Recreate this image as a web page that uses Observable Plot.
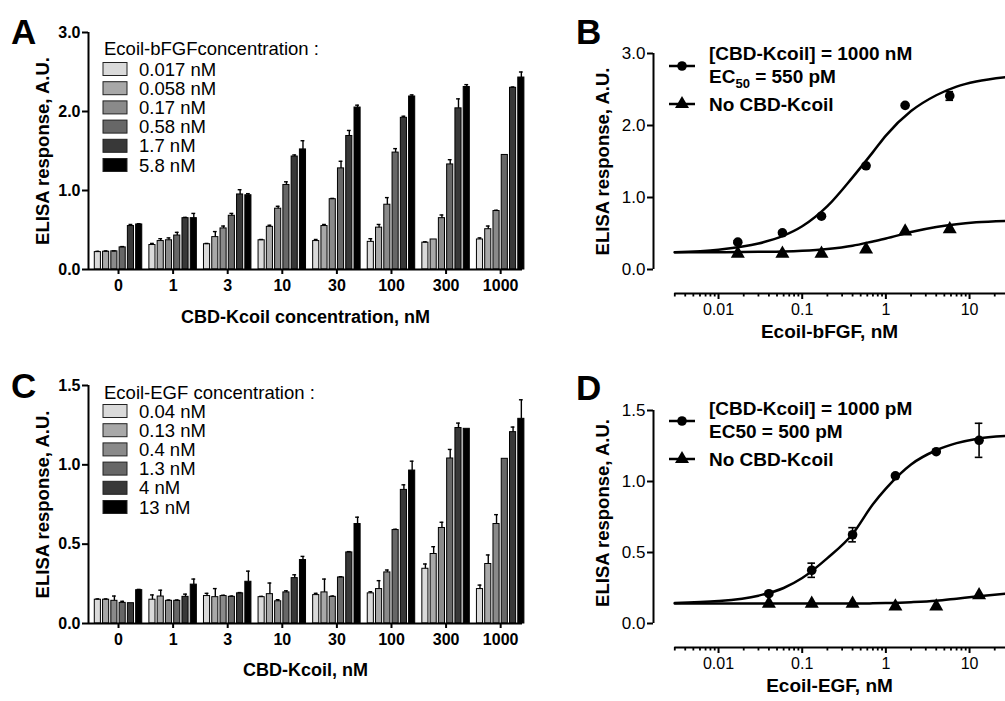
<!DOCTYPE html>
<html><head><meta charset="utf-8">
<script src="https://cdn.jsdelivr.net/npm/d3@7"></script>
<script src="https://cdn.jsdelivr.net/npm/@observablehq/plot@0.6"></script>
<style>
html,body{margin:0;padding:0;background:#fff;overflow:hidden}
#fig{position:relative;width:1005px;height:701px;background:#fff;font-family:"Liberation Sans",Arial,sans-serif;color:#000}
#fig svg{position:absolute}
</style></head>
<body><div id="fig"></div>
<script>
// ---------------- data ----------------
const kcoilLabels = ["0", "1", "3", "10", "30", "100", "300", "1000"];
const bfgfLegend = ["0.017 nM", "0.058 nM", "0.17 nM", "0.58 nM", "1.7 nM", "5.8 nM"];
const egfLegend = ["0.04 nM", "0.13 nM", "0.4 nM", "1.3 nM", "4 nM", "13 nM"];
const grays = ["#dadada", "#a8a8a8", "#8a8a8a", "#676767", "#383838", "#000000"];

// Panel A: rows = CBD-Kcoil concentration, columns = Ecoil-bFGF concentration
const bfgfBars = [
  [0.22, 0.225, 0.23, 0.28, 0.55, 0.57],
  [0.31, 0.36, 0.37, 0.43, 0.65, 0.65],
  [0.32, 0.41, 0.52, 0.68, 0.95, 0.94],
  [0.37, 0.54, 0.77, 1.07, 1.43, 1.52],
  [0.36, 0.55, 0.89, 1.28, 1.69, 2.05],
  [0.35, 0.53, 0.82, 1.48, 1.92, 2.19],
  [0.34, 0.38, 0.65, 1.33, 2.04, 2.31],
  [0.38, 0.51, 0.74, 1.45, 2.30, 2.43]
];
const bfgfBarErr = [
  [0.01, 0.01, 0.005, 0.01, 0.02, 0.01],
  [0.02, 0.03, 0.03, 0.04, 0.01, 0.06],
  [0.01, 0.07, 0.03, 0.03, 0.06, 0.02],
  [0.01, 0.02, 0.03, 0.04, 0.02, 0.11],
  [0.02, 0.02, 0.01, 0.09, 0.07, 0.03],
  [0.04, 0.04, 0.09, 0.05, 0.02, 0.02],
  [0.01, 0.0, 0.04, 0.06, 0.12, 0.03],
  [0.02, 0.04, 0.01, 0.0, 0.01, 0.07]
];
// Panel C
const egfBars = [
  [0.15, 0.15, 0.143, 0.13, 0.128, 0.21],
  [0.15, 0.17, 0.143, 0.143, 0.168, 0.245],
  [0.173, 0.166, 0.173, 0.168, 0.19, 0.263],
  [0.166, 0.185, 0.14, 0.196, 0.286, 0.40],
  [0.179, 0.196, 0.168, 0.29, 0.448, 0.627],
  [0.19, 0.217, 0.322, 0.589, 0.842, 0.964],
  [0.345, 0.438, 0.602, 1.04, 1.232, 1.227],
  [0.217, 0.375, 0.627, 1.038, 1.206, 1.29]
];
const egfBarErr = [
  [0.005, 0.005, 0.03, 0.01, 0.0, 0.005],
  [0.03, 0.04, 0.005, 0.005, 0.017, 0.035],
  [0.017, 0.054, 0.005, 0.005, 0.005, 0.067],
  [0.005, 0.07, 0.01, 0.01, 0.021, 0.023],
  [0.011, 0.084, 0.005, 0.005, 0.005, 0.043],
  [0.01, 0.053, 0.015, 0.005, 0.032, 0.059],
  [0.03, 0.046, 0.036, 0.057, 0.031, 0.0],
  [0.025, 0.057, 0.059, 0.0, 0.032, 0.12]
];

// Panel B
const bfgfDose = [0.017, 0.058, 0.17, 0.58, 1.7, 5.8];
const bfgfWith = [0.38, 0.51, 0.74, 1.44, 2.28, 2.41];
const bfgfWithErr = [0.02, 0.02, 0.02, 0.03, 0.02, 0.06];
const bfgfWithout = [0.22, 0.22, 0.22, 0.28, 0.53, 0.56];
const fitDose = [0.003, 0.01, 0.03, 0.06, 0.1, 0.2, 0.4, 0.7, 1, 2, 4, 7, 12, 27];
const bfgfFitWith = [0.24, 0.275, 0.36, 0.47, 0.60, 0.88, 1.28, 1.63, 1.86, 2.20, 2.42, 2.54, 2.61, 2.67];
const bfgfFitWithout = [0.24, 0.24, 0.245, 0.25, 0.26, 0.285, 0.33, 0.39, 0.43, 0.52, 0.59, 0.63, 0.655, 0.675];

// Panel D
const egfDose = [0.04, 0.13, 0.4, 1.3, 4, 13];
const egfWith = [0.21, 0.375, 0.625, 1.04, 1.21, 1.29];
const egfWithErr = [0.01, 0.05, 0.05, 0.01, 0.01, 0.12];
const egfWithout = [0.14, 0.14, 0.14, 0.12, 0.12, 0.20];
const egfFitWith = [0.145, 0.158, 0.196, 0.25, 0.32, 0.46, 0.63, 0.84, 0.95, 1.12, 1.22, 1.27, 1.30, 1.32];
const egfFitWithout = [0.14, 0.14, 0.14, 0.14, 0.14, 0.14, 0.14, 0.142, 0.144, 0.15, 0.16, 0.175, 0.19, 0.21];

const majorDecades = [0.01, 0.1, 1, 10];
const minorTicks = [0.003,0.004,0.005,0.006,0.007,0.008,0.009,
  0.02,0.03,0.04,0.05,0.06,0.07,0.08,0.09,
  0.2,0.3,0.4,0.5,0.6,0.7,0.8,0.9,
  2,3,4,5,6,7,8,9,20];

// ---------------- drawing ----------------
const FONT = '"Liberation Sans", Arial, sans-serif';
const fig = document.getElementById("fig");
function place(node, left, top) {
  node.style.left = left + "px";
  node.style.top = top + "px";
  fig.appendChild(node);
}

const X_DOMAIN = [-0.55, 7.4];
const BAR_STEP = 0.1515, BAR_W = 0.112, CAP_W = 0.035;

function barPanel(values, errs, yMax, yTicks, yTitle, xTitle, opts) {
  const rows = values.flatMap((grp, g) => grp.map((v, s) => ({g, s, v, e: errs[g][s]})));
  const n = values[0].length;
  const cx = d => d.g + (d.s - (n - 1) / 2) * BAR_STEP;
  const withErr = rows.filter(d => d.e > 0);
  return Plot.plot({
    width: 530, height: opts.height,
    marginLeft: 88, marginRight: 8, marginTop: opts.marginTop, marginBottom: opts.marginBottom,
    x: {domain: X_DOMAIN},
    y: {domain: [0, yMax]},
    color: {type: "ordinal", domain: d3.range(n), range: grays},
    style: {fontFamily: FONT, fontSize: "16px", fontWeight: "bold", color: "#000", background: "transparent", overflow: "visible"},
    marks: [
      Plot.rect(rows, {x1: d => cx(d) - BAR_W / 2, x2: d => cx(d) + BAR_W / 2, y1: 0, y2: "v", fill: "s", stroke: "#000", strokeWidth: 1}),
      Plot.ruleX(withErr, {x: cx, y1: "v", y2: d => d.v + d.e, stroke: "#000", strokeWidth: 1.4}),
      Plot.ruleY(withErr, {y: d => d.v + d.e, x1: d => cx(d) - CAP_W, x2: d => cx(d) + CAP_W, stroke: "#000", strokeWidth: 1.4}),
      Plot.ruleY([0], {stroke: "#000", strokeWidth: 2}),
      Plot.ruleX([X_DOMAIN[0]], {y1: 0, y2: yMax, stroke: "#000", strokeWidth: 2}),
      Plot.axisY({ticks: yTicks, tickFormat: d3.format(".1f"), tickSize: 6, tickPadding: 2, strokeWidth: 2, fontSize: 16, fontWeight: "bold", label: null}),
      Plot.axisX({ticks: d3.range(kcoilLabels.length), tickFormat: i => kcoilLabels[i], tickSize: 5, tickPadding: 5, strokeWidth: 2, fontSize: 16, fontWeight: "bold", label: null}),
      Plot.text([yTitle], {text: d => d, frameAnchor: "left", textAnchor: "middle", dx: -45, rotate: -90, fontSize: 18.5, fontWeight: "bold"}),
      Plot.text([xTitle], {text: d => d, frameAnchor: "bottom", textAnchor: "middle", dy: opts.xTitleDy, fontSize: 18, fontWeight: "bold"})
    ]
  });
}

const LOG_DOMAIN = [0.00167, 26.9];
function curvePanel(cfg) {
  const pts = (xs, ys, es) => xs.map((x, i) => ({x, y: ys[i], e: es ? es[i] : 0}));
  const withPts = pts(cfg.dose, cfg.withY, cfg.withErr);
  const withoutPts = pts(cfg.dose, cfg.withoutY);
  const fitWith = pts(fitDose, cfg.fitWith);
  const fitWithout = pts(fitDose, cfg.fitWithout);
  const errPts = withPts.filter(d => d.e > 0);
  return Plot.plot({
    width: 445, height: cfg.height,
    marginLeft: 93, marginRight: 0, marginTop: cfg.marginTop, marginBottom: cfg.marginBottom,
    x: {type: "log", domain: LOG_DOMAIN},
    y: {domain: [cfg.yMin, cfg.yMax]},
    style: {fontFamily: FONT, fontSize: "16px", fontWeight: "normal", color: "#000", background: "transparent", overflow: "visible"},
    marks: [
      Plot.line(fitWithout, {x: "x", y: "y", curve: "monotone-x", stroke: "#000", strokeWidth: 2.5}),
      Plot.line(fitWith, {x: "x", y: "y", curve: "monotone-x", stroke: "#000", strokeWidth: 2.5}),
      Plot.ruleX(errPts, {x: "x", y1: d => d.y - d.e, y2: d => d.y + d.e, stroke: "#000", strokeWidth: 1.6}),
      Plot.ruleY(errPts, {y: d => d.y + d.e, x1: d => d.x / 1.11, x2: d => d.x * 1.11, stroke: "#000", strokeWidth: 1.6}),
      Plot.ruleY(errPts, {y: d => d.y - d.e, x1: d => d.x / 1.11, x2: d => d.x * 1.11, stroke: "#000", strokeWidth: 1.6}),
      Plot.dot(withPts, {x: "x", y: "y", symbol: "circle", r: 4.8, fill: "#000"}),
      Plot.dot(withoutPts, {x: "x", y: "y", symbol: "triangle", r: 5.2, fill: "#000"}),
      // axes
      Plot.ruleX([LOG_DOMAIN[0]], {y1: 0, y2: cfg.yMax, stroke: "#000", strokeWidth: 2}),
      Plot.ruleY([cfg.yMin], {x1: fitDose[0], x2: LOG_DOMAIN[1], stroke: "#000", strokeWidth: 2.2}),
      Plot.axisY({ticks: cfg.yTicks, tickFormat: d3.format(".1f"), tickSize: 6, tickPadding: 2, strokeWidth: 2, fontSize: 17, label: null}),
      Plot.axisX({ticks: majorDecades, tickFormat: d => String(d), tickSize: 6, tickPadding: 4, strokeWidth: 2, fontSize: 16, label: null}),
      Plot.axisX({ticks: minorTicks, tickFormat: () => "", tickSize: 3.5, strokeWidth: 1.8, label: null}),
      Plot.text([cfg.yTitle], {text: d => d, frameAnchor: "left", textAnchor: "middle", dx: -50, dy: -cfg.yTitleShift, rotate: -90, fontSize: 18.5, fontWeight: "bold"}),
      Plot.text([cfg.xTitle], {text: d => d, frameAnchor: "bottom", textAnchor: "middle", dy: 44, fontSize: 19, fontWeight: "bold"})
    ]
  });
}

place(barPanel(bfgfBars, bfgfBarErr, 3, [0, 1, 2, 3], "ELISA response, A.U.", "CBD-Kcoil concentration, nM",
  {height: 345, marginTop: 32, marginBottom: 76, xTitleDy: 53}), 0, 0);
place(barPanel(egfBars, egfBarErr, 1.5, [0, 0.5, 1, 1.5], "ELISA response, A.U.", "CBD-Kcoil, nM",
  {height: 345, marginTop: 32, marginBottom: 75, xTitleDy: 52}), 0, 353);

place(curvePanel({dose: bfgfDose, withY: bfgfWith, withErr: bfgfWithErr, withoutY: bfgfWithout,
  fitWith: bfgfFitWith, fitWithout: bfgfFitWithout, yMin: -1 / 3, yMax: 3, yTicks: [0, 1, 2, 3],
  height: 350, marginTop: 53, marginBottom: 57, yTitle: "ELISA response, A.U.", xTitle: "Ecoil-bFGF, nM", yTitleShift: 12}), 560, 0);
place(curvePanel({dose: egfDose, withY: egfWith, withErr: egfWithErr, withoutY: egfWithout,
  fitWith: egfFitWith, fitWithout: egfFitWithout, yMin: -0.169, yMax: 1.5, yTicks: [0, 0.5, 1, 1.5],
  height: 351, marginTop: 60, marginBottom: 54, yTitle: "ELISA response, A.U.", xTitle: "Ecoil-EGF, nM", yTitleShift: 16}), 560, 350);

// ---------------- overlay: panel letters and legends ----------------
const ov = d3.select(fig).append("svg").attr("width", 1005).attr("height", 701)
  .style("left", "0px").style("top", "0px").style("pointer-events", "none")
  .style("font-family", FONT);

[["A", 11, 44], ["B", 576, 44], ["C", 11, 398], ["D", 576, 400]].forEach(([t, x, y]) =>
  ov.append("text").attr("x", x).attr("y", y).attr("font-size", 35).attr("font-weight", "bold").text(t));

function swatchLegend(title, labels, x, titleY, rowY) {
  const g = ov.append("g").attr("font-size", 18.5);
  g.append("text").attr("x", x + 1).attr("y", titleY + 6.5).text(title);
  labels.forEach((lab, i) => {
    const cy = rowY + i * 19.2;
    g.append("rect").attr("x", x).attr("y", cy - 6.5).attr("width", 24).attr("height", 13)
      .attr("fill", grays[i]).attr("stroke", "#222").attr("stroke-width", 1);
    g.append("text").attr("x", x + 36).attr("y", cy + 6.5).text(lab);
  });
}
swatchLegend("Ecoil-bFGFconcentration :", bfgfLegend, 103, 48, 69);
swatchLegend("Ecoil-EGF concentration :", egfLegend, 103, 392, 411);

function symbolLegend(line1, ecText, ecUnit, line3, top) {
  const g = ov.append("g").attr("font-size", 19).attr("font-weight", "bold");
  const yc = top + 13, yt = top + 51;
  g.append("line").attr("x1", 669).attr("x2", 695).attr("y1", yc).attr("y2", yc).attr("stroke", "#000").attr("stroke-width", 2.5);
  g.append("circle").attr("cx", 682).attr("cy", yc).attr("r", 4.8);
  g.append("text").attr("x", 709).attr("y", top + 7).text(line1);
  const t2 = g.append("text").attr("x", 709).attr("y", top + 30);
  if (ecText.sub) {
    t2.append("tspan").text("EC");
    t2.append("tspan").attr("font-size", 13).attr("dy", 5).text(ecText.sub);
    t2.append("tspan").attr("dy", -5).text(ecUnit);
  } else {
    t2.text(ecText.plain + ecUnit);
  }
  g.append("line").attr("x1", 669).attr("x2", 695).attr("y1", yt).attr("y2", yt).attr("stroke", "#000").attr("stroke-width", 2.5);
  g.append("path").attr("d", d3.symbol(d3.symbolTriangle, 85)()).attr("transform", `translate(682,${yt})`);
  g.append("text").attr("x", 709).attr("y", yt + 7).text(line3);
}
symbolLegend("[CBD-Kcoil] = 1000 nM", {sub: "50"}, " = 550 pM", "No CBD-Kcoil", 53);
symbolLegend("[CBD-Kcoil] = 1000 pM", {plain: "EC50"}, " = 500 pM", "No CBD-Kcoil", 408);
</script>
</body></html>
